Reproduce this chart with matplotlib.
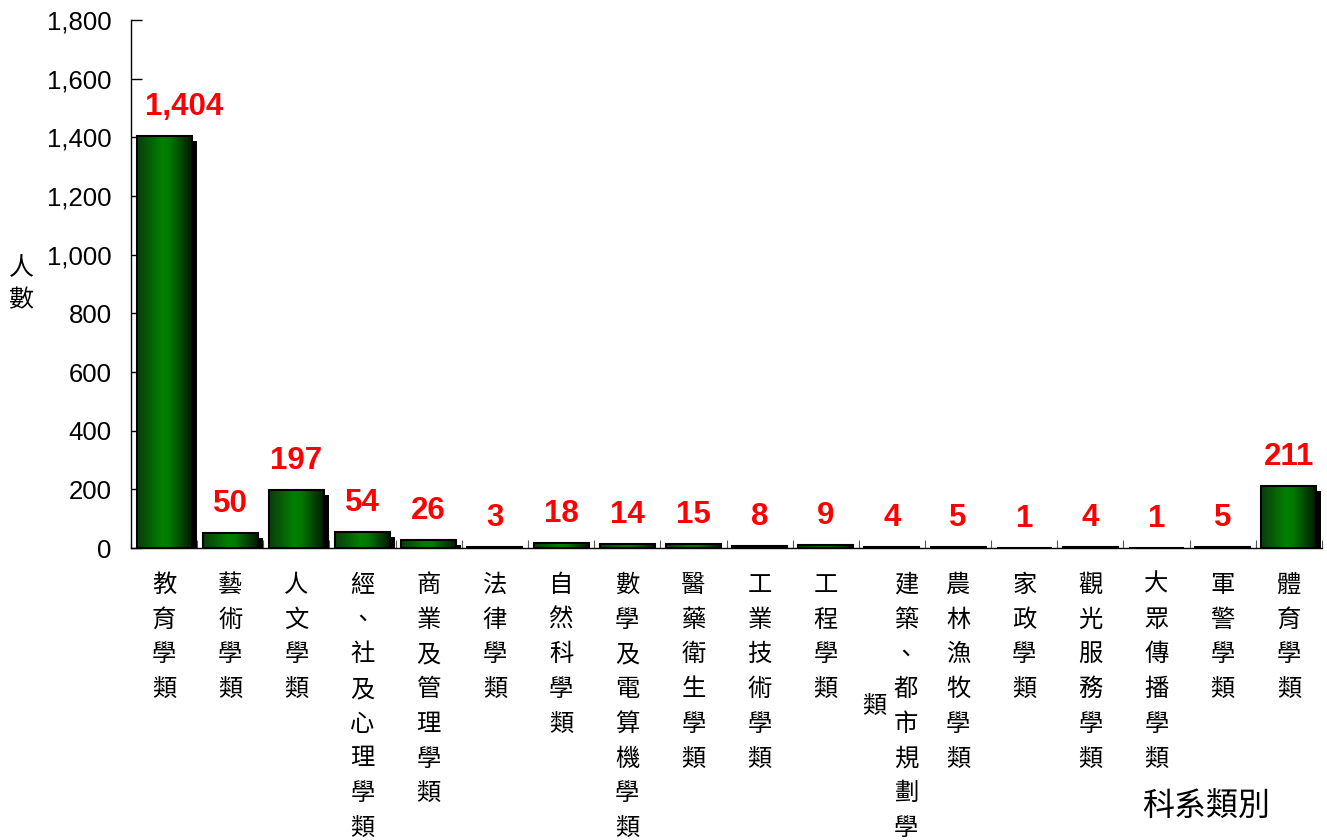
import matplotlib
matplotlib.use("Agg")
import matplotlib.pyplot as plt
import matplotlib.transforms as mtransforms
from matplotlib.colors import LinearSegmentedColormap
import numpy as np

plt.rcParams['font.family'] = ['Liberation Sans', 'Noto Sans CJK TC', 'DejaVu Sans']
CJK = ['Noto Sans CJK TC', 'DejaVu Sans']

categories = ["教育學類", "藝術學類", "人文學類", "經、社及心理學類", "商業及管理學類",
              "法律學類", "自然科學類", "數學及電算機學類", "醫藥衛生學類", "工業技術學類",
              "工程學類", "建築、都市規劃學類", "農林漁牧學類", "家政學類", "觀光服務學類",
              "大眾傳播學類", "軍警學類", "體育學類"]
values = [1404, 50, 197, 54, 26, 3, 18, 14, 15, 8, 9, 4, 5, 1, 4, 1, 5, 211]
yticks = [0, 200, 400, 600, 800, 1000, 1200, 1400, 1600, 1800]

W, H = 1327, 840
fig = plt.figure(figsize=(W / 100, H / 100), dpi=100)
ax = fig.add_axes([131 / W, 1 - 548 / H, (1322 - 131) / W, (548 - 20) / H])

x = np.arange(len(categories))
bw = 0.83

# shadow
shadow_tr = mtransforms.offset_copy(ax.transData, fig=fig, x=5, y=-5, units='dots')
ax.bar(x, values, bw, color='black', transform=shadow_tr, zorder=1)

# bars with horizontal gradient
green = LinearSegmentedColormap.from_list(
    "g", [(0.0, "#0b3d0b"), (0.45, "#008000"), (0.6, "#007800"), (1.0, "#001a00")])
grad = np.linspace(0, 1, 64).reshape(1, -1)
bars = ax.bar(x, values, bw, facecolor='none', edgecolor='black', linewidth=1.5, zorder=3)
for xi, v, b in zip(x, values, bars):
    im = ax.imshow(grad, cmap=green, aspect='auto', extent=[xi - bw / 2, xi + bw / 2, 0, v],
                   zorder=2, interpolation='bilinear')
    im.set_clip_path(b)

# value labels (the first one sits a bit to the right in the original)
for xi, v in zip(x, values):
    dx = 20 if xi == 0 else 0
    ax.annotate(f"{v:,}", xy=(xi, v), xytext=(dx, 29), textcoords='offset pixels',
                ha='center', va='center', color='#ff0000', fontsize=22.5, fontweight='bold')

ax.set_xlim(-0.5, len(categories) - 0.5)
ax.set_ylim(0, 1800)
ax.set_yticks(yticks)
ax.set_yticklabels([f"{t:,}" for t in yticks], fontsize=18.5)
ax.tick_params(axis='y', direction='in', length=8, width=1, pad=14)
ax.set_xticks(np.arange(len(categories) + 1) - 0.5)
ax.set_xticklabels([])
ax.tick_params(axis='x', direction='in', length=6, width=0.8, color='#555555')
for s in ['top', 'right']:
    ax.spines[s].set_visible(False)
ax.spines['left'].set_linewidth(1)
ax.spines['bottom'].set_linewidth(1)

# vertical category labels
step = 34.7
first = 585 - 548
fs = 17.5
for xi, name in zip(x, categories):
    chars = list(name)
    dx = 0
    if len(chars) > 8:
        extra = chars[8:]
        chars = chars[:8]
        dx = 14
        for k, ch in enumerate(extra):
            ax.annotate(ch, xy=(xi, 0), xycoords=('data', 'axes fraction'),
                        xytext=(-18, -(first + 3.5 * step)), textcoords='offset pixels',
                        ha='center', va='center', fontsize=fs, family=CJK,
                        annotation_clip=False)
    for k, ch in enumerate(chars):
        ax.annotate(ch, xy=(xi, 0), xycoords=('data', 'axes fraction'),
                    xytext=(dx, -(first + k * step)), textcoords='offset pixels',
                    ha='center', va='center', fontsize=fs, family=CJK,
                    annotation_clip=False)

fig.text(21 / W, 1 - 268 / H, "人", ha='center', va='center', fontsize=18, family=CJK)
fig.text(21 / W, 1 - 300 / H, "數", ha='center', va='center', fontsize=18, family=CJK)
fig.text(1206 / W, 1 - 806 / H, "科系類別", ha='center', va='center', fontsize=23, family=CJK)

fig.savefig("out.png", dpi=100)
